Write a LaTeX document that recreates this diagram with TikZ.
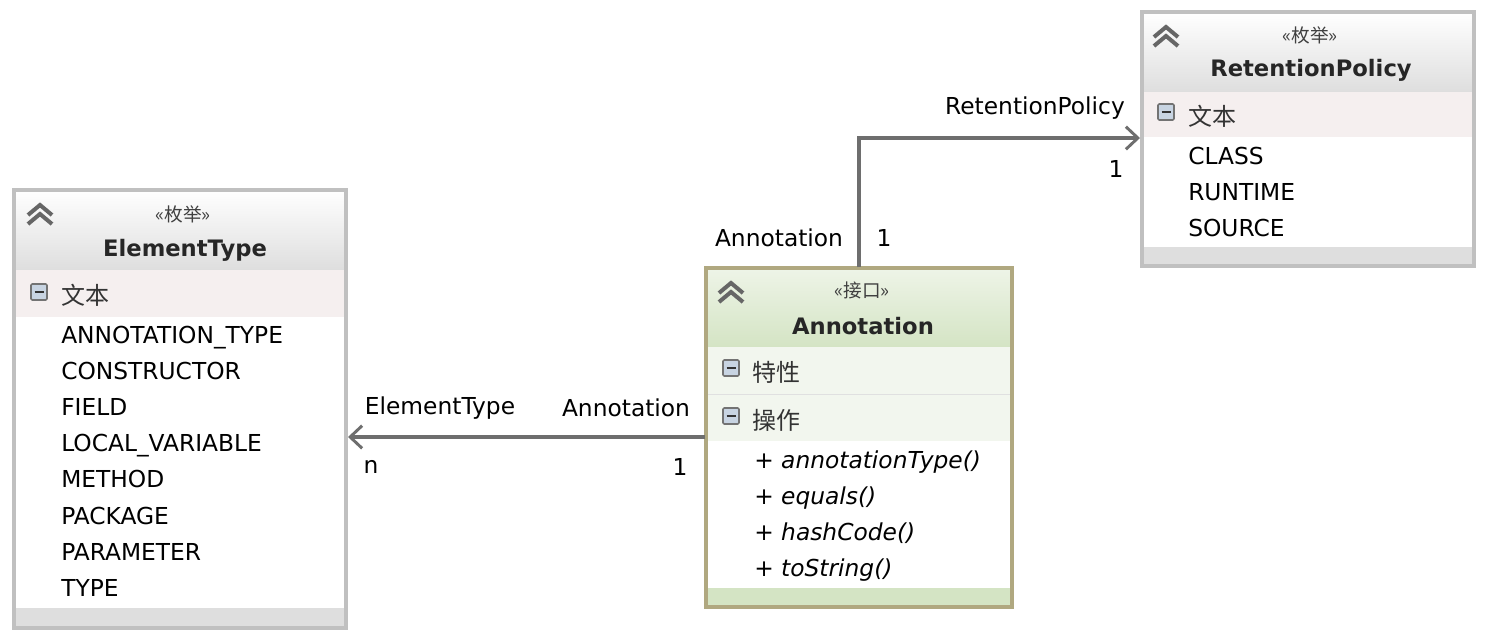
\documentclass[tikz,border=0pt]{standalone}
\usepackage{fontspec}
\setmainfont{DejaVu Sans}
\newfontfamily\cjk{Noto Sans CJK SC}
\usetikzlibrary{arrows.meta,positioning,calc}
\definecolor{hdgray}{RGB}{222,222,222}
\definecolor{bandpink}{RGB}{245,239,239}
\definecolor{bordgray}{RGB}{192,192,192}
\definecolor{bordtan}{RGB}{176,168,128}
\definecolor{hdgreen}{RGB}{212,228,196}
\definecolor{bandgreen}{RGB}{242,246,238}
\definecolor{linegray}{RGB}{110,110,110}
\definecolor{iconblue}{RGB}{200,212,226}
\tikzset{
  lbl/.style={inner sep=0.75pt, font=\fontsize{17.5}{19}\selectfont},
  item/.style={lbl, anchor=base west},
  ster/.style={inner sep=0.75pt, font=\cjk\fontsize{14}{15}\selectfont, text=black!75},
  title/.style={inner sep=0.75pt, font=\bfseries\fontsize{17}{19}\selectfont, text=black!85},
  sect/.style={inner sep=0.75pt, anchor=west, font=\cjk\fontsize{18}{19}\selectfont, text=black!80},
  conn/.style={linegray, line width=2.6pt, -{Straight Barb[length=9pt,width=17pt,line width=2.2pt]}},
}
% minus icon
\newcommand{\minusicon}[1]{%
  \draw[fill=iconblue, draw=black!55, line width=1.2pt, rounded corners=1pt] ($(#1)+(-8,-8)$) rectangle ($(#1)+(8,8)$);
  \draw[line width=2pt, black!80] ($(#1)+(-4.5,0)$) -- ($(#1)+(4.5,0)$);}
% collapse icon
\newcommand{\chevicon}[1]{%
  \draw[line width=3pt, black!60] ($(#1)+(-12,1)$) -- ($(#1)+(0,-9)$) -- ($(#1)+(12,1)$);
  \draw[line width=3pt, black!60] ($(#1)+(-12,10)$) -- ($(#1)+(0,0)$) -- ($(#1)+(12,10)$);}
\begin{document}
\begin{tikzpicture}[x=0.75pt,y=0.75pt,yscale=-1,xscale=1]
  \useasboundingbox (0,0) rectangle (1489,640);

  %ElementType box
  \shade[top color=white, bottom color=hdgray] (14,190) rectangle (346,270);
  \fill[bandpink] (14,270) rectangle (346,317);
  \fill[hdgray] (14,608) rectangle (346,628);
  \draw[bordgray, line width=2.5pt] (14,190) rectangle (346,628);
  \chevicon{40,214}
  \node[ster] (etster) at (183,214) {«枚举»};
  \node[title] (ettitle) at (185,250) {ElementType};
  \minusicon{39,292}
  \node[sect] (etsect) at (60,295) {文本};
  \foreach \t [count=\i from 0] in {ANNOTATION\_TYPE,CONSTRUCTOR,FIELD,LOCAL\_VARIABLE,METHOD,PACKAGE,PARAMETER,TYPE}
    \node[item] (et\i) at (60,{343+36.2*\i}) {\t};

  %RetentionPolicy box
  \shade[top color=white, bottom color=hdgray] (1142,12) rectangle (1474,92);
  \fill[bandpink] (1142,92) rectangle (1474,137);
  \fill[hdgray] (1142,247) rectangle (1474,266);
  \draw[bordgray, line width=2.5pt] (1142,12) rectangle (1474,266);
  \chevicon{1166,36}
  \node[ster] (rpster) at (1310,35) {«枚举»};
  \node[title] (rptitle) at (1311,70) {RetentionPolicy};
  \minusicon{1166,112}
  \node[sect] (rpsect) at (1187,116) {文本};
  \foreach \t [count=\i from 0] in {CLASS,RUNTIME,SOURCE}
    \node[item] (rp\i) at (1187,{164+36*\i}) {\t};

  %Annotation box
  \shade[top color=white!60!hdgreen, bottom color=hdgreen] (706,268) rectangle (1012,347);
  \fill[bandgreen] (706,347) rectangle (1012,441);
  \draw[black!12] (706,394) -- (1012,394);
  \fill[hdgreen] (706,588) rectangle (1012,607);
  \draw[bordtan, line width=2.5pt] (706,268) rectangle (1012,607);
  \chevicon{731,292}
  \node[ster] (anster) at (862,290) {«接口»};
  \node[title] (antitle) at (863,326) {Annotation};
  \minusicon{731,368}
  \node[sect] (ansect1) at (751,372) {特性};
  \minusicon{731,416}
  \node[sect] (ansect2) at (751,420) {操作};
  \foreach \t [count=\i from 0] in {annotationType(),equals(),hashCode(),toString()}
    \node[item, font=\itshape\fontsize{17.5}{19}\selectfont] (an\i) at (753,{468+36.2*\i}) {+ \t};

  %connectors
  \coordinate (anleft) at (705,437);
  \coordinate (etright) at (348,437);
  \coordinate (antop) at (859,267);
  \coordinate (bend) at (859,138);
  \coordinate (rpleft) at (1140,138);
  \draw[conn] (anleft) -- (etright);
  \draw[conn] (antop) -- (bend) -- (rpleft);

  % Text Node
  \node[lbl] (l1) at (440,408) {ElementType};
  \node[lbl] (l2) at (371,467) {n};
  \node[lbl] (l3) at (626,408) {Annotation};
  \node[lbl] (l4) at (680,467) {1};
  \node[lbl] (l5) at (1035,108) {RetentionPolicy};
  \node[lbl] (l6) at (1116,169) {1};
  \node[lbl] (l7) at (779,238) {Annotation};
  \node[lbl] (l8) at (884,238) {1};
\end{tikzpicture}
\end{document}
